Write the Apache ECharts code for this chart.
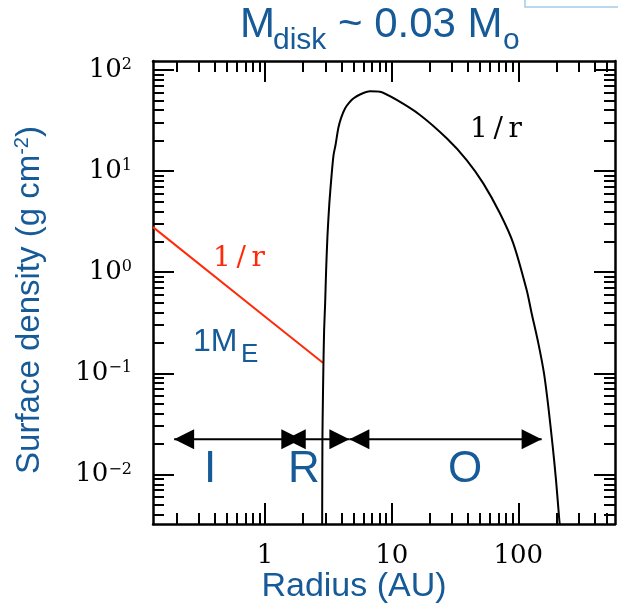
<!DOCTYPE html>
<html><head><meta charset="utf-8">
<script src="https://cdn.jsdelivr.net/npm/echarts@6/dist/echarts.min.js"></script>
<style>html,body{margin:0;padding:0;background:#fff}#c{width:618px;height:607px}</style>
</head><body><div id="c"></div>
<script>
// ---- data ----
const redR = [0.13, 1.0, 2.86];
const redSigma = [2.79, 0.363, 0.127];

const diskR = [2.82, 2.836, 2.857, 2.888, 2.924, 2.978, 3.033, 3.105, 3.215, 3.358, 3.47, 3.598, 3.787, 3.977, 4.277, 4.598, 4.974, 5.618, 6.74, 8.08, 10.95, 16.73, 27.2, 39.1, 52.9, 71.6, 91.3, 116.5, 127.6, 144.1, 159.7, 172.8, 187.2, 198.7, 211, 214];
const diskSigma = [0.003, 0.0236, 0.0507, 0.125, 0.267, 0.491, 1.05, 2.24, 4.79, 9.49, 14.4, 18.1, 26.6, 33.4, 41.5, 47.1, 52.1, 57.1, 61.4, 60.7, 50.4, 35.8, 21.05, 12.85, 7.55, 3.82, 1.927, 0.665, 0.391, 0.198, 0.0998, 0.0466, 0.0188, 0.0088, 0.00353, 0.003];

const regionNames = ['I', 'R', 'O'];
const arrowStart = [0.191, 1.455, 4.63];
const arrowEnd = [1.93, 4.63, 153];
const arrowLevel = 0.0223;

const xMin = 0.13, xMax = 581;
const yMin = 0.00324, yMax = 122.4;
const xMajorTicks = [1, 10, 100];
const xTickLabels = ['1', '10', '100'];
const xMinorTicks = [0.2,0.3,0.4,0.5,0.6,0.7,0.8,0.9, 2,3,4,5,6,7,8,9, 20,30,40,50,60,70,80,90, 200,300,400,500];
const yMajorTicks = [0.01, 0.1, 1, 10, 100];
const yTickExponents = ['\u22122', '\u22121', '0', '1', '2'];
const yMinorTicks = [0.004,0.005,0.006,0.007,0.008,0.009, 0.02,0.03,0.04,0.05,0.06,0.07,0.08,0.09, 0.2,0.3,0.4,0.5,0.6,0.7,0.8,0.9, 2,3,4,5,6,7,8,9, 20,30,40,50,60,70,80,90];

// ---- chart ----
const BLUE = '#165a98';
const RED = '#ff2a0a';
const SERIF = '"DejaVu Serif", "Liberation Serif", serif';
const SANS = '"Liberation Sans", Arial, sans-serif';

function nearestIndex(arr, v) {
  let best = 0, bd = Infinity;
  arr.forEach((a, i) => { const d = Math.abs(Math.log10(a) - Math.log10(v)); if (d < bd) { bd = d; best = i; } });
  return best;
}

function axisBase(extra) {
  return Object.assign({
    type: 'log', logBase: 10, gridIndex: 0,
    splitLine: { show: false }, minorTick: { show: false }, minorSplitLine: { show: false },
    axisLine: { show: true, onZero: false, lineStyle: { color: '#000', width: 2.5 } },
    axisLabel: { show: false }
  }, extra);
}
function majorTick(vals) { return { show: true, inside: true, length: 21, customValues: vals, lineStyle: { color: '#000', width: 2 } }; }
function minorTickCfg(vals) { return { show: true, inside: true, length: 11, customValues: vals, lineStyle: { color: '#000', width: 2 } }; }

const chart = echarts.init(document.getElementById('c'), null, { renderer: 'canvas' });

const option = {
  animation: false,
  backgroundColor: '#fff',
  grid: { left: 153, right: 3, top: 61, bottom: 83, containLabel: false },
  xAxis: [
    axisBase({ position: 'bottom', min: xMin, max: xMax, axisTick: majorTick(xMajorTicks),
      axisLabel: { show: true, customValues: xMajorTicks, margin: 19, color: '#000', fontFamily: SERIF, fontSize: 26,
        formatter: v => xTickLabels[nearestIndex(xMajorTicks, v)] } }),
    axisBase({ position: 'bottom', min: xMin, max: xMax, axisLine: { show: false, onZero: false }, axisTick: minorTickCfg(xMinorTicks) }),
    axisBase({ position: 'top', min: xMin, max: xMax, axisTick: majorTick(xMajorTicks) }),
    axisBase({ position: 'top', min: xMin, max: xMax, axisLine: { show: false, onZero: false }, axisTick: minorTickCfg(xMinorTicks) })
  ],
  yAxis: [
    axisBase({ position: 'left', min: yMin, max: yMax, axisTick: majorTick(yMajorTicks),
      axisLabel: { show: true, customValues: yMajorTicks, margin: 21, color: '#000',
        formatter: v => '{b|10}{s|' + yTickExponents[nearestIndex(yMajorTicks, v)] + '}',
        rich: {
          b: { fontFamily: SERIF, fontSize: 26, lineHeight: 26, color: '#000', verticalAlign: 'top' },
          s: { fontFamily: SERIF, fontSize: 16, lineHeight: 16, color: '#000', verticalAlign: 'top' }
        } } }),
    axisBase({ position: 'left', min: yMin, max: yMax, axisLine: { show: false, onZero: false }, axisTick: minorTickCfg(yMinorTicks) }),
    axisBase({ position: 'right', min: yMin, max: yMax, axisTick: majorTick(yMajorTicks) }),
    axisBase({ position: 'right', min: yMin, max: yMax, axisLine: { show: false, onZero: false }, axisTick: minorTickCfg(yMinorTicks) })
  ],
  series: [
    { type: 'line', name: 'inner 1/r', xAxisIndex: 0, yAxisIndex: 0, symbol: 'none', clip: true,
      lineStyle: { color: RED, width: 2 }, data: redR.map((r, i) => [r, redSigma[i]]), z: 3 },
    { type: 'line', name: 'disk', xAxisIndex: 0, yAxisIndex: 0, symbol: 'none', clip: true, smooth: 0.25,
      lineStyle: { color: '#000', width: 2 }, data: diskR.map((r, i) => [r, diskSigma[i]]), z: 3 },
    { type: 'custom', name: 'regions', xAxisIndex: 0, yAxisIndex: 0, z: 4,
      encode: { x: [0, 1], y: 2 },
      data: arrowStart.map((s, i) => [s, arrowEnd[i], arrowLevel]),
      renderItem: (params, api) => {
        const p1 = api.coord([api.value(0), api.value(2)]);
        const p2 = api.coord([api.value(1), api.value(2)]);
        const L = 20, H = 10;
        return { type: 'group', children: [
          { type: 'line', shape: { x1: p1[0], y1: p1[1], x2: p2[0], y2: p2[1] }, style: { stroke: '#000', lineWidth: 2 } },
          { type: 'polygon', shape: { points: [[p1[0], p1[1]], [p1[0] + L, p1[1] - H], [p1[0] + L, p1[1] + H]] }, style: { fill: '#000' } },
          { type: 'polygon', shape: { points: [[p2[0], p2[1]], [p2[0] - L, p2[1] - H], [p2[0] - L, p2[1] + H]] }, style: { fill: '#000' } }
        ] };
      } }
  ],
  graphic: [
    { type: 'rect', shape: { x: 525, y: -10, width: 110, height: 17 }, style: { fill: 'none', stroke: '#a3cbe8', lineWidth: 1.5 } },
    // title
    { type: 'text', x: 240, y: 25, style: { text: 'M', fontFamily: SANS, fontSize: 42, fill: BLUE, align: 'left', verticalAlign: 'middle' } },
    { type: 'text', x: 273, y: 41, style: { text: 'disk', fontFamily: SANS, fontSize: 30, fill: BLUE, align: 'left', verticalAlign: 'middle' } },
    { type: 'text', x: 338, y: 25, style: { text: '~ 0.03 M', fontFamily: SANS, fontSize: 42, fill: BLUE, align: 'left', verticalAlign: 'middle' } },
    { type: 'text', x: 503, y: 41, style: { text: 'o', fontFamily: SANS, fontSize: 30, fill: BLUE, align: 'left', verticalAlign: 'middle' } },
    // axis names
    { type: 'text', x: 354, y: 587, style: { text: 'Radius (AU)', fontFamily: SANS, fontSize: 34, fill: BLUE, align: 'center', verticalAlign: 'middle' } },
    { type: 'text', x: 29, y: 300, rotation: Math.PI / 2,
      style: { text: '{a|Surface density (g cm}{s|-2}{a|)}', align: 'center', verticalAlign: 'middle',
        rich: { a: { fontFamily: SANS, fontSize: 33, lineHeight: 34, fill: BLUE, color: BLUE, verticalAlign: 'bottom' },
                s: { fontFamily: SANS, fontSize: 20, lineHeight: 20, fill: BLUE, color: BLUE, verticalAlign: 'top' } } } },
    // annotations
    { type: 'text', x: 213, y: 259, style: { text: '1\u2009/\u2009r', fontFamily: SERIF, fontSize: 28, fill: RED, align: 'left', verticalAlign: 'middle' } },
    { type: 'text', x: 470, y: 130, style: { text: '1\u2009/\u2009r', fontFamily: SERIF, fontSize: 28, fill: '#000', align: 'left', verticalAlign: 'middle' } },
    { type: 'text', x: 193, y: 342, style: { text: '1M', fontFamily: SANS, fontSize: 32, fill: BLUE, align: 'left', verticalAlign: 'middle' } },
    { type: 'text', x: 241, y: 355, style: { text: 'E', fontFamily: SANS, fontSize: 26, fill: BLUE, align: 'left', verticalAlign: 'middle' } },
    { type: 'text', x: 210, y: 470, style: { text: regionNames[0], fontFamily: SANS, fontSize: 44, fill: BLUE, align: 'center', verticalAlign: 'middle' } },
    { type: 'text', x: 304, y: 470, style: { text: regionNames[1], fontFamily: SANS, fontSize: 44, fill: BLUE, align: 'center', verticalAlign: 'middle' } },
    { type: 'text', x: 465, y: 470, style: { text: regionNames[2], fontFamily: SANS, fontSize: 44, fill: BLUE, align: 'center', verticalAlign: 'middle' } }
  ]
};
chart.setOption(option);
</script>
</body></html>
